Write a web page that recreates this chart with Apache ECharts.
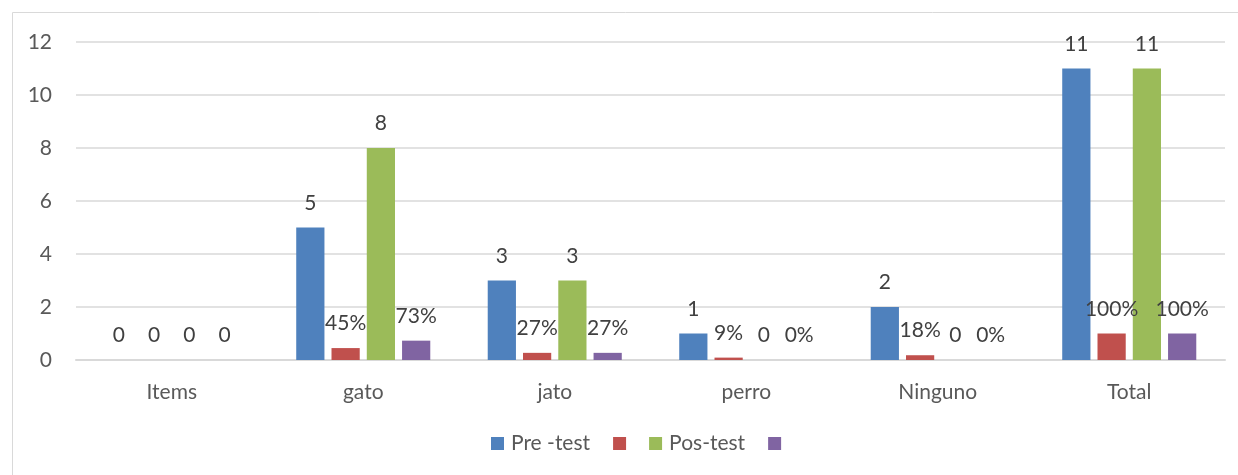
<!DOCTYPE html>
<html><head><meta charset="utf-8">
<script src="https://cdn.jsdelivr.net/npm/echarts@6/dist/echarts.min.js"></script>
<style>html,body{margin:0;padding:0;background:#fff}#c{width:1238px;height:475px}</style>
</head><body><div id="c"></div>
<script>
const categories = ['Items', 'gato', 'jato', 'perro', 'Ninguno', 'Total'];
const preTest = [0, 5, 3, 1, 2, 11];
const prePct = [0, 0.45, 0.27, 0.09, 0.18, 1.0];
const posTest = [0, 8, 3, 0, 0, 11];
const posPct = [0, 0.73, 0.27, 0, 0, 1.0];
const prePctLabels = ['0', '45%', '27%', '9%', '18%', '100%'];
const posPctLabels = ['0', '73%', '27%', '0%', '0%', '100%'];
const yTicks = [0, 2, 4, 6, 8, 10, 12];

const FONT = 'Lato, "Open Sans", sans-serif';
const FS = 21;
const lbl = (texts) => ({
  show: true, position: 'top', distance: 14,
  fontFamily: FONT, fontSize: FS, color: '#404040',
  formatter: texts ? (p) => texts[p.dataIndex] : (p) => String(p.value)
});
const chart = echarts.init(document.getElementById('c'), null, {renderer: 'canvas'});
chart.setOption({
  animation: false,
  graphic: [{type: 'rect', shape: {x: 12.5, y: 12.5, width: 1240, height: 480},
    style: {fill: 'none', stroke: '#d9d9d9', lineWidth: 1}}],
  grid: {left: 76, right: 13, top: 42, bottom: 115, containLabel: false},
  legend: {
    bottom: 21, left: 491, padding: 0, itemWidth: 13, itemHeight: 13, itemGap: 23,
    icon: 'rect',
    data: ['Pre -test', 'pct1', 'Pos-test', 'pct2'],
    formatter: (n) => (n === 'pct1' || n === 'pct2') ? '' : n,
    textStyle: {fontFamily: FONT, fontSize: FS, color: '#595959', padding: [0, 0, 0, 2]}
  },
  xAxis: {
    type: 'category', data: categories,
    axisLine: {lineStyle: {color: '#d9d9d9', width: 2}},
    axisTick: {show: false},
    axisLabel: {fontFamily: FONT, fontSize: FS, color: '#595959', margin: 22}
  },
  yAxis: {
    type: 'value', min: yTicks[0], max: yTicks[yTicks.length - 1], interval: 2,
    axisLine: {show: false}, axisTick: {show: false},
    splitLine: {lineStyle: {color: '#d9d9d9', width: 1.5}},
    axisLabel: {fontFamily: FONT, fontSize: FS, color: '#595959', margin: 24}
  },
  series: [
    {name: 'Pre -test', type: 'bar', data: preTest, itemStyle: {color: '#4f81bd'},
      barGap: '25%', barCategoryGap: '30%', label: lbl()},
    {name: 'pct1', type: 'bar', data: prePct, itemStyle: {color: '#c0504d'}, label: lbl(prePctLabels)},
    {name: 'Pos-test', type: 'bar', data: posTest, itemStyle: {color: '#9bbb59'}, label: lbl()},
    {name: 'pct2', type: 'bar', data: posPct, itemStyle: {color: '#8064a2'}, label: lbl(posPctLabels)}
  ]
});
</script></body></html>
